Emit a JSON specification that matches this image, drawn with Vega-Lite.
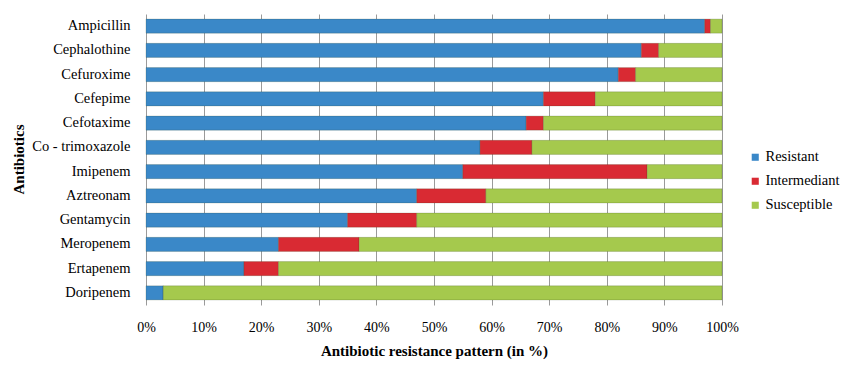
{
  "$schema": "https://vega.github.io/schema/vega-lite/v6.json",
  "autosize": {"type": "none"},
  "padding": {"left": 146, "top": 14, "right": 126, "bottom": 64},
  "width": 576,
  "height": 291,
  "background": "white",
  "config": {
    "font": "Liberation Serif",
    "view": {"stroke": null},
    "axis": {"labelFont": "Liberation Serif", "titleFont": "Liberation Serif"},
    "legend": {"labelFont": "Liberation Serif"}
  },
  "data": {
    "values": [
      {"antibiotic": "Ampicillin", "pattern": "Resistant", "percent": 97},
      {"antibiotic": "Ampicillin", "pattern": "Intermediant", "percent": 1},
      {"antibiotic": "Ampicillin", "pattern": "Susceptible", "percent": 2},
      {"antibiotic": "Cephalothine", "pattern": "Resistant", "percent": 86},
      {"antibiotic": "Cephalothine", "pattern": "Intermediant", "percent": 3},
      {"antibiotic": "Cephalothine", "pattern": "Susceptible", "percent": 11},
      {"antibiotic": "Cefuroxime", "pattern": "Resistant", "percent": 82},
      {"antibiotic": "Cefuroxime", "pattern": "Intermediant", "percent": 3},
      {"antibiotic": "Cefuroxime", "pattern": "Susceptible", "percent": 15},
      {"antibiotic": "Cefepime", "pattern": "Resistant", "percent": 69},
      {"antibiotic": "Cefepime", "pattern": "Intermediant", "percent": 9},
      {"antibiotic": "Cefepime", "pattern": "Susceptible", "percent": 22},
      {"antibiotic": "Cefotaxime", "pattern": "Resistant", "percent": 66},
      {"antibiotic": "Cefotaxime", "pattern": "Intermediant", "percent": 3},
      {"antibiotic": "Cefotaxime", "pattern": "Susceptible", "percent": 31},
      {"antibiotic": "Co - trimoxazole", "pattern": "Resistant", "percent": 58},
      {"antibiotic": "Co - trimoxazole", "pattern": "Intermediant", "percent": 9},
      {"antibiotic": "Co - trimoxazole", "pattern": "Susceptible", "percent": 33},
      {"antibiotic": "Imipenem", "pattern": "Resistant", "percent": 55},
      {"antibiotic": "Imipenem", "pattern": "Intermediant", "percent": 32},
      {"antibiotic": "Imipenem", "pattern": "Susceptible", "percent": 13},
      {"antibiotic": "Aztreonam", "pattern": "Resistant", "percent": 47},
      {"antibiotic": "Aztreonam", "pattern": "Intermediant", "percent": 12},
      {"antibiotic": "Aztreonam", "pattern": "Susceptible", "percent": 41},
      {"antibiotic": "Gentamycin", "pattern": "Resistant", "percent": 35},
      {"antibiotic": "Gentamycin", "pattern": "Intermediant", "percent": 12},
      {"antibiotic": "Gentamycin", "pattern": "Susceptible", "percent": 53},
      {"antibiotic": "Meropenem", "pattern": "Resistant", "percent": 23},
      {"antibiotic": "Meropenem", "pattern": "Intermediant", "percent": 14},
      {"antibiotic": "Meropenem", "pattern": "Susceptible", "percent": 63},
      {"antibiotic": "Ertapenem", "pattern": "Resistant", "percent": 17},
      {"antibiotic": "Ertapenem", "pattern": "Intermediant", "percent": 6},
      {"antibiotic": "Ertapenem", "pattern": "Susceptible", "percent": 77},
      {"antibiotic": "Doripenem", "pattern": "Resistant", "percent": 3},
      {"antibiotic": "Doripenem", "pattern": "Intermediant", "percent": 0},
      {"antibiotic": "Doripenem", "pattern": "Susceptible", "percent": 97}
    ]
  },
  "transform": [
    {"calculate": "indexof(['Resistant','Intermediant','Susceptible'], datum.pattern)", "as": "stackOrder"}
  ],
  "mark": {"type": "bar", "stroke": "#2f3f1a", "strokeWidth": 0.4, "strokeOpacity": 0.5},
  "encoding": {
    "y": {
      "field": "antibiotic",
      "type": "nominal",
      "sort": null,
      "scale": {"paddingInner": 0.42, "paddingOuter": 0.21},
      "axis": {
        "title": "Antibiotics",
        "titleFontSize": 15,
        "titleFontWeight": "bold",
        "titleColor": "black",
        "titleX": -128,
        "titleY": 145,
        "titleAngle": -90,
        "titleAlign": "center",
        "titleBaseline": "middle",
        "labelFontSize": 14.5,
        "labelColor": "black",
        "labelPadding": 16,
        "domain": false,
        "ticks": false,
        "grid": false
      }
    },
    "x": {
      "field": "percent",
      "type": "quantitative",
      "stack": "normalize",
      "scale": {"domain": [0, 1], "nice": false},
      "axis": {
        "format": ".0%",
        "values": [0, 0.1, 0.2, 0.3, 0.4, 0.5, 0.6, 0.7, 0.8, 0.9, 1],
        "labelOverlap": false,
        "title": "Antibiotic resistance pattern (in %)",
        "titleFontSize": 15,
        "titleFontWeight": "bold",
        "titleColor": "black",
        "titlePadding": 9,
        "labelFontSize": 14,
        "labelColor": "black",
        "labelPadding": 15,
        "labelDx": -5,
        "labelFlush": false,
        "domain": false,
        "ticks": false,
        "grid": true,
        "gridColor": "#9a9a9a",
        "gridWidth": 1
      }
    },
    "color": {
      "field": "pattern",
      "type": "nominal",
      "sort": ["Resistant", "Intermediant", "Susceptible"],
      "scale": {
        "domain": ["Resistant", "Intermediant", "Susceptible"],
        "range": ["#3a88c8", "#d92a33", "#a5c94d"]
      },
      "legend": {
        "title": null,
        "orient": "none",
        "legendX": 602,
        "legendY": 136,
        "symbolType": "square",
        "symbolSize": 50,
        "symbolStrokeWidth": 0,
        "labelFontSize": 14.5,
        "labelColor": "black",
        "rowPadding": 9,
        "labelOffset": 3
      }
    },
    "order": {"field": "stackOrder", "type": "quantitative", "sort": "ascending"}
  }
}
